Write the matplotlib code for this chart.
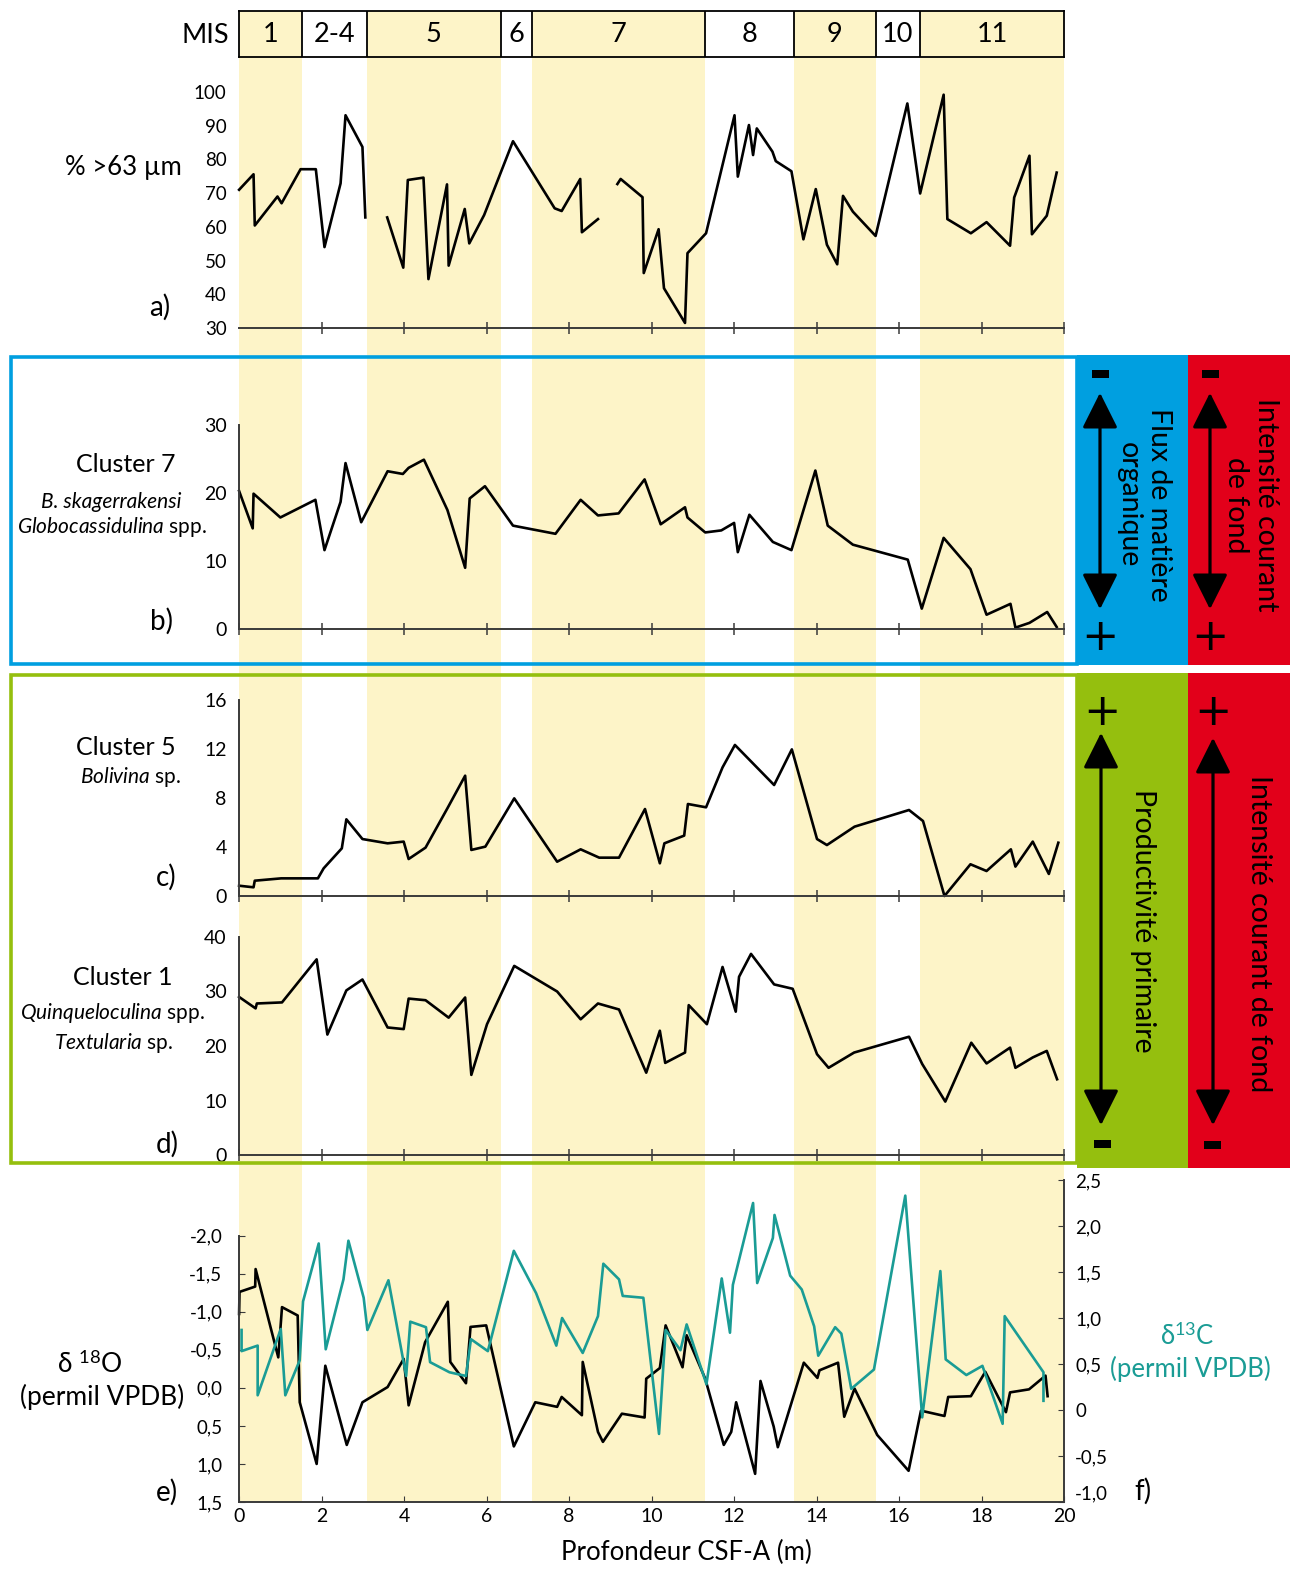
"""Multi-proxy core plot: grain size, foraminifera clusters and stable isotopes vs depth."""
import numpy as np
import matplotlib
matplotlib.use("Agg")
import matplotlib.pyplot as plt
from matplotlib.patches import Rectangle, FancyArrowPatch

nan = np.nan

# Marine isotope stages (depth limits in m)
mis_edges = [0.0, 1.53, 3.09, 6.35, 7.10, 11.30, 13.44, 15.43, 16.51, 20.0]
mis_labels = ["1", "2-4", "5", "6", "7", "8", "9", "10", "11"]
mis_warm = [True, False, True, False, True, False, True, False, True]

# a) % > 63 µm
depth_a = [0.00, 0.35, 0.38, 0.93, 1.03, 1.49, 1.86, 2.07, 2.46, 2.58, 2.99, 3.06, nan,
           3.59, 3.98, 4.09, 4.47, 4.59, 5.04, 5.08, 5.47, 5.58, 5.94, 6.64, 7.65, 7.82,
           8.27, 8.31, 8.70, nan,
           9.17, 9.25, 9.78, 9.81, 10.17, 10.30, 10.81, 10.87, 11.32, 12.01, 12.09, 12.36,
           12.46, 12.55, 12.93, 13.01, 13.39, 13.68, 13.98, 14.25, 14.50, 14.64, 14.88,
           15.43, 16.20, 16.51, 17.08, 17.17, 17.74, 18.12, 18.69, 18.79, 19.16, 19.22,
           19.58, 19.82]
sand_pct = [71.0, 75.6, 60.4, 69.0, 67.0, 77.1, 77.1, 54.0, 72.9, 93.1, 83.7, 62.8, nan,
            62.8, 47.9, 73.9, 74.6, 44.5, 72.6, 48.5, 65.3, 55.1, 63.5, 85.4, 65.5, 64.7,
            74.2, 58.4, 62.3, nan,
            72.7, 74.2, 68.8, 46.3, 59.3, 41.8, 31.5, 52.2, 58.1, 93.1, 74.9, 90.2,
            81.3, 89.2, 82.3, 79.5, 76.5, 56.3, 71.2, 54.7, 48.9, 69.2, 64.5,
            57.3, 96.6, 69.9, 99.2, 62.3, 58.1, 61.4, 54.4, 68.7, 81.1, 57.8,
            63.3, 76.1]

# b) Cluster 7
depth_b = [0.00, 0.33, 0.35, 1.00, 1.85, 2.07, 2.46, 2.58, 2.96, 3.60, 3.97, 4.11, 4.48,
           5.05, 5.48, 5.59, 5.96, 6.64, 7.67, 8.28, 8.70, 9.20, 9.83, 10.22, 10.81, 10.87,
           11.30, 11.69, 12.00, 12.09, 12.37, 12.94, 13.39, 13.97, 14.27, 14.88, 16.21,
           16.55, 17.08, 17.73, 18.12, 18.70, 18.82, 19.16, 19.59, 19.82]
cluster7 = [20.3, 14.8, 19.9, 16.4, 19.0, 11.6, 18.7, 24.4, 15.7, 23.2, 22.8, 23.7, 24.9,
            17.5, 9.0, 19.2, 21.0, 15.2, 14.0, 19.0, 16.7, 17.0, 22.0, 15.4, 17.9, 16.4,
            14.2, 14.5, 15.6, 11.3, 16.8, 12.8, 11.6, 23.3, 15.2, 12.4, 10.2,
            3.0, 13.4, 8.8, 2.1, 3.7, 0.2, 0.9, 2.5, 0.3]

# c) Cluster 5
depth_c = [0.00, 0.35, 0.38, 1.02, 1.91, 2.05, 2.49, 2.60, 2.99, 3.60, 3.99, 4.11, 4.52,
           5.05, 5.48, 5.63, 5.97, 6.67, 7.71, 8.28, 8.73, 9.21, 9.84, 10.20, 10.31, 10.79,
           10.88, 11.32, 11.72, 12.02, 12.97, 13.40, 14.01, 14.25, 14.92, 16.24, 16.58,
           17.10, 17.73, 18.12, 18.71, 18.82, 19.24, 19.63, 19.86]
cluster5 = [0.84, 0.71, 1.25, 1.44, 1.44, 2.26, 3.89, 6.26, 4.65, 4.30, 4.44, 3.02, 3.95,
            7.16, 9.82, 3.76, 4.03, 7.97, 2.80, 3.81, 3.13, 3.13, 7.10, 2.67, 4.30, 4.93,
            7.51, 7.24, 10.5, 12.33, 9.06, 11.97, 4.65, 4.16, 5.66, 7.02, 6.12,
            0.0, 2.59, 2.04, 3.81, 2.40, 4.44, 1.80, 4.35]

# d) Cluster 1
depth_d = [0.00, 0.40, 0.43, 1.04, 1.88, 2.14, 2.60, 2.99, 3.60, 3.99, 4.11, 4.52, 5.08,
           5.48, 5.63, 6.01, 6.67, 7.71, 8.28, 8.70, 9.21, 9.87, 10.20, 10.33, 10.81, 10.90,
           11.34, 11.72, 12.04, 12.12, 12.41, 12.97, 13.42, 14.01, 14.29, 14.91, 16.24,
           16.56, 17.12, 17.75, 18.12, 18.69, 18.82, 19.24, 19.58, 19.83]
cluster1 = [29.0, 26.9, 27.8, 28.0, 35.9, 22.1, 30.2, 32.2, 23.4, 23.1, 28.7, 28.4, 25.2,
            28.9, 14.7, 24.0, 34.7, 30.0, 24.9, 27.8, 26.7, 15.1, 22.8, 16.9, 18.8, 27.5,
            24.0, 34.5, 26.3, 32.7, 36.9, 31.3, 30.5, 18.5, 16.0, 18.8, 21.7,
            16.7, 9.8, 20.6, 16.8, 19.7, 16.0, 17.9, 19.1, 13.9]

# e) delta 18O
depth_o = [0.00, 0.01, 0.39, 0.40, 0.95, 1.04, 1.42, 1.47, 1.88, 2.09, 2.61, 2.99, 3.60,
           3.99, 4.11, 4.51, 5.06, 5.12, 5.50, 5.61, 5.99, 6.66, 7.18, 7.71, 7.82, 8.31,
           8.33, 8.70, 8.82, 9.28, 9.83, 9.87, 10.20, 10.34, 10.75, 10.85, 11.30, 11.75,
           11.93, 12.05, 12.51, 12.64, 12.96, 13.06, 13.69, 14.02, 14.07, 14.52, 14.67,
           14.92, 15.47, 16.23, 16.53, 17.10, 17.19, 17.74, 18.09, 18.59, 18.69, 19.15,
           19.55, 19.60]
d18o = [-0.97, -1.26, -1.33, -1.56, -0.40, -1.06, -0.95, 0.19, 1.00, -0.29, 0.75, 0.19, -0.01,
        -0.38, 0.23, -0.60, -1.13, -0.34, -0.06, -0.80, -0.82, 0.77, 0.19, 0.25, 0.12, 0.36,
        -0.34, 0.58, 0.71, 0.34, 0.39, -0.12, -0.26, -0.82, -0.27, -0.69, -0.12, 0.75,
        0.58, 0.19, 1.13, -0.09, 0.51, 0.78, -0.33, -0.13, -0.23, -0.33, 0.38,
        0.01, 0.62, 1.09, 0.30, 0.37, 0.12, 0.11, -0.21, 0.32, 0.06, 0.02,
        -0.16, 0.11]

# f) delta 13C
depth_c13 = [0.06, 0.06, 0.45, 0.45, 1.01, 1.12, 1.47, 1.55, 1.93, 2.10, 2.53, 2.65, 3.02,
             3.11, 3.62, 4.05, 4.15, 4.53, 4.63, 5.10, 5.50, 5.62, 6.03, 6.66, 7.20, 7.69,
             7.83, 8.33, 8.70, 8.83, 9.21, 9.30, 9.80, 10.18, 10.34, 10.70, 10.85, 11.33,
             11.70, 11.90, 11.97, 12.46, 12.56, 12.94, 12.98, 13.36, 13.64, 13.94, 14.04,
             14.45, 14.60, 14.84, 15.39, 16.15, 16.56, 17.00, 17.13, 17.63, 18.02, 18.51,
             18.56, 19.50, 19.50]
d13c = [0.87, 0.64, 0.70, 0.16, 0.88, 0.16, 0.54, 1.18, 1.81, 0.66, 1.42, 1.84, 1.22,
        0.87, 1.41, 0.37, 0.96, 0.90, 0.52, 0.41, 0.37, 0.77, 0.64, 1.73, 1.27, 0.70,
        1.00, 0.62, 1.02, 1.59, 1.42, 1.24, 1.22, -0.26, 0.87, 0.65, 0.93, 0.28,
        1.43, 0.84, 1.36, 2.25, 1.38, 1.87, 2.12, 1.46, 1.31, 0.91, 0.59,
        0.90, 0.83, 0.23, 0.44, 2.33, -0.08, 1.51, 0.55, 0.38, 0.48, -0.15,
        1.02, 0.41, 0.10]

d18o_ticks = [-2.0, -1.5, -1.0, -0.5, 0.0, 0.5, 1.0, 1.5]
d18o_ticklabels = ["-2,0", "-1,5", "-1,0", "-0,5", "0,0", "0,5", "1,0", "1,5"]
d13c_ticks = [-1.0, -0.5, 0.0, 0.5, 1.0, 1.5, 2.0, 2.5]
d13c_ticklabels = ["-1,0", "-0,5", "0", "0,5", "1,0", "1,5", "2,0", "2,5"]

W, H = 1294, 1571
X0, X1 = 239.1, 1064.1       # pixel position of 0 m and 20 m
YELLOW = "#fdf4c8"
AXIS = "#3a3a3a"
TEAL = "#1a9c95"
BLUE = "#009fe0"
RED = "#e2001a"
GREEN = "#95bf0e"

plt.rcParams["font.family"] = ["Lato", "DejaVu Sans"]
plt.rcParams["mathtext.fontset"] = "custom"
plt.rcParams["mathtext.rm"] = "Lato"
plt.rcParams["mathtext.it"] = "Lato:italic"

fig = plt.figure(figsize=(W / 100, H / 100), dpi=100)


def px_axes(x0, y0, x1, y1, **kw):
    """Axes placed with pixel coordinates measured from the top-left corner."""
    return fig.add_axes([x0 / W, 1 - y1 / H, (x1 - x0) / W, (y1 - y0) / H], **kw)


# stage bands behind every panel
bg = px_axes(X0, 57, X1, 1502, zorder=0)
bg.set_xlim(0, 20)
bg.set_ylim(0, 1)
bg.axis("off")
for a, b, warm in zip(mis_edges[:-1], mis_edges[1:], mis_warm):
    if warm:
        bg.axvspan(a, b, color=YELLOW, lw=0)

# MIS header bar
mis = px_axes(X0, 11, X1, 57, zorder=1)
mis.set_xlim(0, 20)
mis.set_ylim(0, 1)
for a, b, lab, warm in zip(mis_edges[:-1], mis_edges[1:], mis_labels, mis_warm):
    if warm:
        mis.axvspan(a, b, color=YELLOW, lw=0)
    mis.text((a + b) / 2, 0.48, lab, ha="center", va="center", fontsize=19.5)
for e in mis_edges[1:-1]:
    mis.axvline(e, color="black", lw=1.3)
mis.set_xticks([])
mis.set_yticks([])
for s in mis.spines.values():
    s.set_linewidth(1.3)


def panel(y0, y1, ylim, yticks, show_left=True, tick_size=14):
    ax = px_axes(X0, y0, X1, y1, zorder=2)
    ax.patch.set_alpha(0)
    ax.set_xlim(0, 20)
    ax.set_ylim(*ylim)
    for s in ("top", "right"):
        ax.spines[s].set_visible(False)
    ax.spines["left"].set_visible(show_left)
    for s in ("left", "bottom"):
        ax.spines[s].set_color(AXIS)
        ax.spines[s].set_linewidth(1.4)
    ax.set_yticks(yticks)
    ax.tick_params(axis="y", length=0, pad=9, labelsize=tick_size, colors="black")
    ax.set_xticks(range(0 if show_left else 2, 21, 2))
    ax.tick_params(axis="x", direction="inout", length=8, width=1.1, color=AXIS,
                   labelbottom=False)
    return ax


ax_a = panel(92, 328, (30, 100), range(30, 101, 10), show_left=False, tick_size=13.5)
ax_a.plot(depth_a, sand_pct, color="black", lw=1.9, clip_on=False)

ax_b = panel(425, 629, (0, 30), [0, 10, 20, 30])
ax_b.plot(depth_b, cluster7, color="black", lw=1.9, clip_on=False)

ax_c = panel(700, 896, (0, 16), [0, 4, 8, 12, 16])
ax_c.plot(depth_c, cluster5, color="black", lw=1.9, clip_on=False)

ax_d = panel(937, 1155, (0, 40), [0, 10, 20, 30, 40])
ax_d.plot(depth_d, cluster1, color="black", lw=1.9, clip_on=False)

# e) / f) isotopes
ax_e = px_axes(X0, 1180, X1, 1502, zorder=2)
ax_e.patch.set_alpha(0)
ax_e.set_xlim(0, 20)
ax_e.set_ylim(1.5, -2.73)
ax_e.spines["top"].set_visible(False)
ax_e.spines["right"].set_visible(False)
ax_e.spines["left"].set_bounds(-2.0, 1.5)
for s in ("left", "bottom"):
    ax_e.spines[s].set_color(AXIS)
    ax_e.spines[s].set_linewidth(1.4)
ax_e.set_yticks(d18o_ticks)
ax_e.set_yticklabels(d18o_ticklabels)
ax_e.tick_params(axis="y", direction="in", length=4, color=AXIS, pad=12, labelsize=13.5)
ax_e.set_xticks(range(0, 21, 2))
ax_e.tick_params(axis="x", direction="in", length=4, color=AXIS, pad=4, labelsize=14)
ax_e.plot(depth_o, d18o, color="black", lw=1.9, clip_on=False)

ax_f = ax_e.twinx()
ax_f.set_ylim(-1.0, 2.5)
ax_f.spines["top"].set_visible(False)
ax_f.spines["left"].set_visible(False)
ax_f.spines["bottom"].set_visible(False)
ax_f.spines["right"].set_color(AXIS)
ax_f.spines["right"].set_linewidth(1.4)
ax_f.set_yticks(d13c_ticks)
ax_f.set_yticklabels(d13c_ticklabels)
ax_f.tick_params(axis="y", direction="in", length=4, color=AXIS, pad=8, labelsize=13.5)
ax_f.get_yticklabels()[0].set_verticalalignment("bottom")   # lift "-1,0" off the x labels
ax_f.plot(depth_c13, d13c, color=TEAL, lw=1.9, clip_on=False)

# overlay in pixel coordinates: frames, side boxes and labels
ov = fig.add_axes([0, 0, 1, 1], zorder=10)
ov.patch.set_alpha(0)
ov.set_xlim(0, W)
ov.set_ylim(H, 0)
ov.axis("off")

ov.add_patch(Rectangle((1077, 355), 111, 310, fc=BLUE, lw=0))
ov.add_patch(Rectangle((1188, 355), 102, 310, fc=RED, lw=0))
ov.add_patch(Rectangle((1077, 673), 111, 495, fc=GREEN, lw=0))
ov.add_patch(Rectangle((1188, 673), 102, 495, fc=RED, lw=0))
ov.add_patch(Rectangle((11, 356.5), 1066, 307, fill=False, ec=BLUE, lw=2.6))
ov.add_patch(Rectangle((11, 674.5), 1066, 488.5, fill=False, ec=GREEN, lw=2.6))

for x, ya, yb in [(1100, 390, 612), (1210, 390, 612), (1101, 730, 1128), (1213, 735, 1128)]:
    ov.add_patch(FancyArrowPatch((x, ya), (x, yb),
                                 arrowstyle="<|-|>,head_length=1.1,head_width=0.55",
                                 mutation_scale=20, lw=2.3, color="black"))

sign_kw = dict(ha="center", va="center", family="DejaVu Sans", color="black")
for x, y, s in [(1100, 375, "-"), (1100, 637, "+"), (1210, 375, "-"), (1210, 637, "+"),
                (1102, 712, "+"), (1102, 1145, "-"), (1213, 712, "+"), (1213, 1146, "-")]:
    if s == "+":
        ov.text(x, y, s, fontsize=32, **sign_kw)
    else:
        ov.text(x, y, s, fontsize=40, fontweight="bold", **sign_kw)

side_kw = dict(ha="center", va="center", rotation=270, rotation_mode="anchor",
               fontsize=20.5, linespacing=1.2, multialignment="center")
ov.text(1144, 505, "Flux de matière\norganique", **side_kw)
ov.text(1251, 505, "Intensité courant\nde fond", **side_kw)
ov.text(1143, 921, "Productivité primaire", **side_kw)
ov.text(1259, 934, "Intensité courant de fond", **side_kw)

labels = [
    ("MIS", 205, 35, 19.5, {}),
    ("% >63 µm", 123, 167, 18.5, {}),
    ("a)", 160, 307, 20, {}),
    ("Cluster 7", 126, 464, 18, {}),
    ("B. skagerrakensi", 111, 502, 15, {"style": "italic"}),
    (r"$\mathit{Globocassidulina}$ spp.", 112, 527, 15, {}),
    ("b)", 161, 621, 20, {}),
    ("Cluster 5", 126, 747, 18, {}),
    (r"$\mathit{Bolivina}$ sp.", 131, 777, 15, {}),
    ("c)", 166, 877, 20, {}),
    ("Cluster 1", 123, 977, 18, {}),
    (r"$\mathit{Quinqueloculina}$ spp.", 113, 1013, 15, {}),
    (r"$\mathit{Textularia}$ sp.", 114, 1043, 15, {}),
    ("d)", 167, 1144, 20, {}),
    (r"δ $^{18}$O", 90, 1364, 19, {}),
    ("(permil VPDB)", 102, 1397, 19, {}),
    ("e)", 167, 1492, 20, {}),
    ("f)", 1143, 1491, 20, {}),
    (r"δ$^{13}$C", 1187, 1336, 18.5, {"color": TEAL}),
    ("(permil VPDB)", 1190, 1369, 18.5, {"color": TEAL}),
    ("Profondeur CSF-A (m)", 686, 1552, 18.5, {}),
]
for text, x, y, size, extra in labels:
    ov.text(x, y, text, ha="center", va="center", fontsize=size, **extra)

fig.savefig("out.png", dpi=100)
plt.close(fig)
